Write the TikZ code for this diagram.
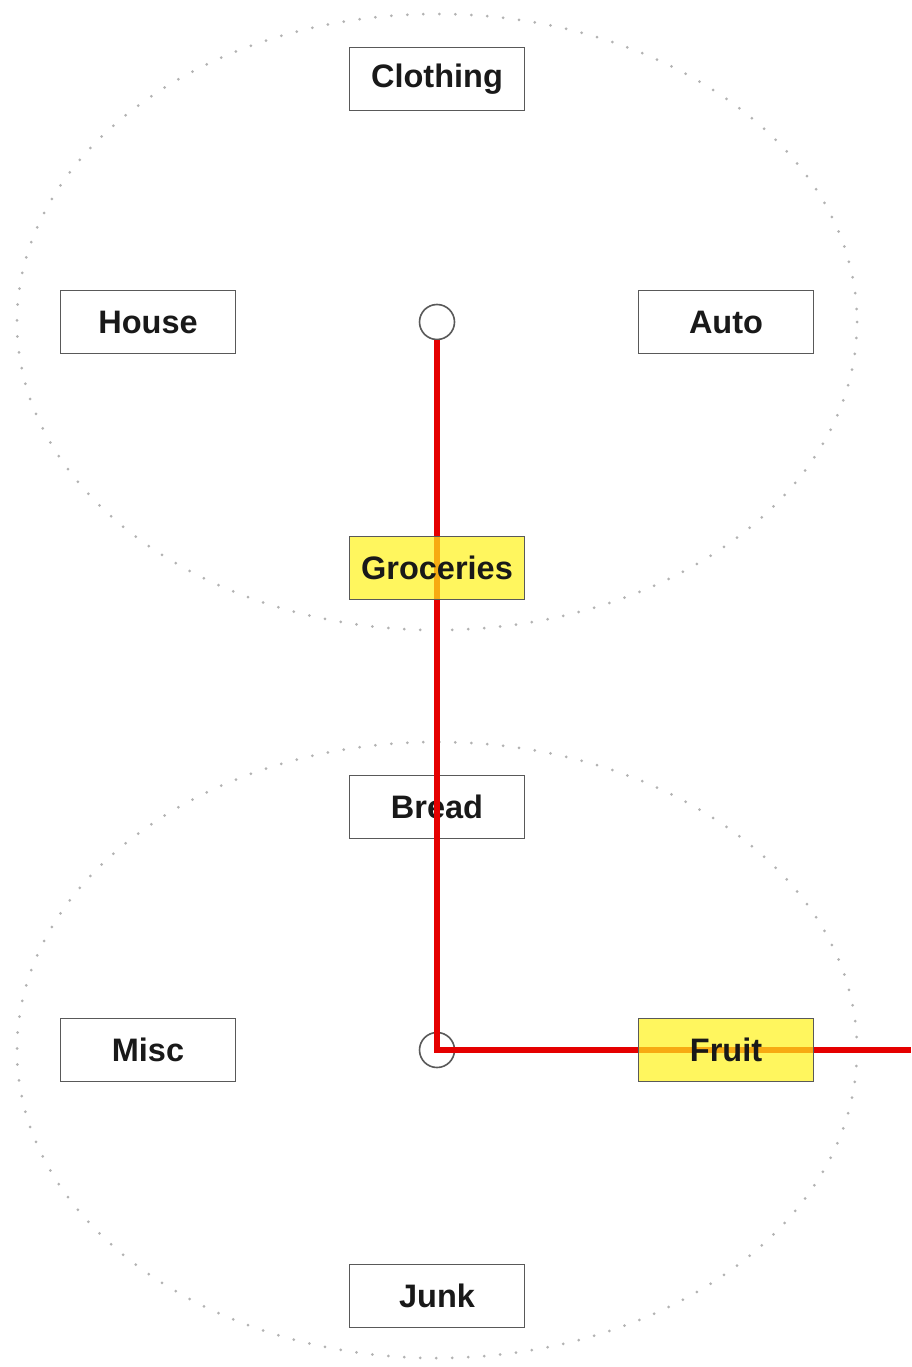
\documentclass[tikz,border=0pt]{standalone}
\usepackage{fontspec}
\setmainfont{Liberation Sans}
\begin{document}
\begin{tikzpicture}[x=1pt,y=-1pt,
  catbox/.style={draw=black!65, line width=1.9pt, minimum width=175pt, minimum height=63pt,
    inner sep=0pt, font=\fontsize{32.5}{38}\selectfont\bfseries, text=black!90, fill=white},
  hilite/.style={catbox, fill=yellow!90!white, fill opacity=0.7, text opacity=1},
  hub/.style={circle, draw=black!65, line width=1.6pt, minimum size=35pt, inner sep=0pt},
  ring/.style={draw=black!30, line width=3pt, line cap=round, dash pattern=on 0pt off 16pt},
  path/.style={draw=red!90!black, line width=5.5pt}]
\useasboundingbox (0,0) rectangle (911,1367);
\fill[white] (0,0) rectangle (911,1367);

% dotted rings
\draw[ring] (437,322) ellipse [x radius=420, y radius=308];
\draw[ring] (437,1050) ellipse [x radius=420, y radius=308];

% hubs
\node[hub] (top) at (437,322) {};
\node[hub] (bot) at (437,1050) {};

% plain categories
\node[catbox] (clothing) at (437,79) {Clothing};
\node[catbox] (house) at (148,322) {House};
\node[catbox] (auto) at (726,322) {Auto};
\node[catbox] (bread) at (437,807) {Bread};
\node[catbox] (misc) at (148,1050) {Misc};
\node[catbox] (junk) at (437,1296) {Junk};

% selected route
\coordinate (exit) at (911,1050);
\draw[path] (top.south) -- (bot.center) -- (exit);

% highlighted categories
\node[hilite] (groceries) at (437,568) {Groceries};
\node[hilite] (fruit) at (726,1050) {Fruit};
\end{tikzpicture}
\end{document}
